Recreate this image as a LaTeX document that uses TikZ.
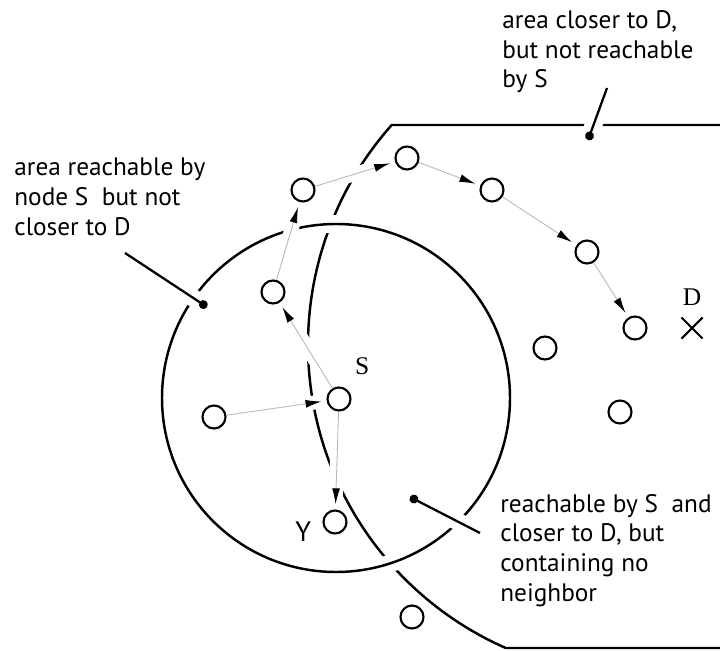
\documentclass[tikz,border=0pt]{standalone}
\usepackage{fontspec}
\setmainfont{PT Sans}
\newfontfamily\labfont{Liberation Serif}
\usepackage{tikz}
\usetikzlibrary{positioning}
\usetikzlibrary{arrows.meta}
\usetikzlibrary{shapes.misc}
\usetikzlibrary{backgrounds}

\begin{document}
\begin{tikzpicture}[x=0.02cm,y=0.02cm,
  nd/.style={circle,draw,line width=1.2pt,fill=white,minimum size=0.46cm,inner sep=0pt},
  hop/.style={draw=gray!55,line width=0.5pt,-{Latex[black,length=9pt,width=4.5pt]},shorten >=3pt,preaction={draw=white,line width=8pt,arrows=-}},
  ptr/.style={line width=1.3pt,-{Circle[length=5pt]},preaction={draw=white,line width=10pt,arrows=-}},
  note/.style={align=left,anchor=base west,inner sep=0pt,font=\fontsize{14.4}{16.8}\selectfont},
  tag/.style={inner sep=0pt,font=\labfont\fontsize{14.5}{14.5}\selectfont}]
\useasboundingbox (0,0) rectangle (720,650);
\node[nd] (s) at (339,251) {};
\node[nd] (y) at (335,128) {};
\node[nd] (l) at (214,233) {};
\node[nd] (a) at (273,358) {};
\node[nd] (b) at (303,460) {};
\node[nd] (c) at (407,492) {};
\node[nd] (e) at (492,460) {};
\node[nd] (f) at (587,398) {};
\node[nd] (g) at (635,322) {};
\node[nd] (h) at (545,302) {};
\node[nd] (i) at (620,238) {};
\node[nd] (j) at (412,33) {};
\node[cross out,draw,line width=1.2pt,minimum size=0.38cm,inner sep=0pt] (d) at (692,322) {};
\node[tag,above right=0.3cm and 0.14cm of s] (sl) {S};
\node[inner sep=0pt,font=\fontsize{16}{16}\selectfont,left=0.22cm of y,yshift=-0.2cm] (yl) {Y};
\node[tag,above=0.24cm of d] (dl) {D};
\node[note] (ta) at (14,415) {area reachable by\\node S\ \ but not\\closer to D};
\node[note] (tb) at (502,562) {area closer to D,\\but not reachable\\by S};
\node[note] (tc) at (500,49) {reachable by S\ \ and\\closer to D, but\\containing no\\neighbor};
\coordinate (pa) at (125,397); \coordinate (da) at (207,343);
\coordinate (pb) at (607,562); \coordinate (db) at (588,510);
\coordinate (pc) at (480,117); \coordinate (dc) at (410,153);
\begin{scope}[on background layer]
\draw[line width=1.4pt] (720,525) -- (391.7,525) arc[start angle=138.34,end angle=246.26,radius=331] -- (720,2);
\draw[line width=1.4pt,preaction={draw=white,line width=10pt}] (336,252) circle[radius=174];
\foreach \u/\v in {l/s,s/a,a/b,b/c,c/e,e/f,f/g,s/y}
  \draw[hop] (\u) -- (\v);
\draw[ptr] (pa) -- (da);
\draw[ptr] (pb) -- (db);
\draw[ptr] (pc) -- (dc);
\end{scope}
\end{tikzpicture}
\end{document}
